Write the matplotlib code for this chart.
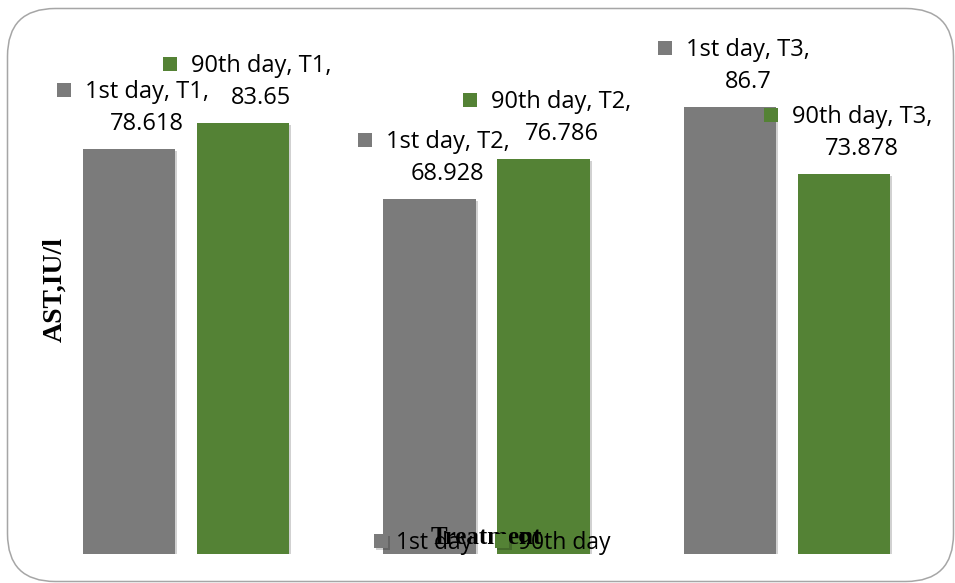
import matplotlib
matplotlib.use("Agg")
import matplotlib.pyplot as plt
import matplotlib.transforms as mtransforms
import matplotlib.patheffects as pe
from matplotlib.patches import FancyBboxPatch, Rectangle
import numpy as np

# Data
treatments = ["T1", "T2", "T3"]
series_names = ["1st day", "90th day"]
day1_values = [78.618, 68.928, 86.7]
day90_values = [83.65, 76.786, 73.878]
value_labels_day1 = ["78.618", "68.928", "86.7"]
value_labels_day90 = ["83.65", "76.786", "73.878"]
colors = ["#7b7b7b", "#548235"]

W, H = 955, 583
fig = plt.figure(figsize=(W / 100, H / 100), dpi=100)

SANS = "Open Sans"
SERIF = "Liberation Serif"
label_size = 17

# Rounded chart-area border
border = FancyBboxPatch((7.5 / W, 1.5 / H), (946 / W), (573 / H),
                        boxstyle="round,pad=0,rounding_size=0.05",
                        transform=fig.transFigure, fill=False,
                        edgecolor="#a6a6a6", linewidth=1.1,
                        mutation_aspect=W / H)
fig.patches.append(border)

ax_left, ax_bottom, ax_w, ax_h = 35.75, 554, 901.5, 515
ax = fig.add_axes([ax_left / W, (H - ax_bottom) / H, ax_w / W, ax_h / H])
ax.set_xlim(-0.5, 2.5)
ax.set_ylim(0, 100)
ax.axis("off")

x = np.arange(len(treatments))
bw = 0.308
off = 0.19
shadow = [pe.SimplePatchShadow(offset=(1.5, -1.5), shadow_rgbFace="#000000", alpha=0.18), pe.Normal()]
bars1 = ax.bar(x - off, day1_values, bw, color=colors[0], label=series_names[0], zorder=2)
bars2 = ax.bar(x + off, day90_values, bw, color=colors[1], label=series_names[1], zorder=2)
for b in list(bars1) + list(bars2):
    b.set_path_effects(shadow)

fig.canvas.draw()
renderer = fig.canvas.get_renderer()

def data_label(xc, val, name, tr, vtxt, color):
    base = ax.transData
    t_val = mtransforms.offset_copy(base, fig=fig, x=18, y=19, units="dots")
    t_top = mtransforms.offset_copy(base, fig=fig, x=18, y=51, units="dots")
    ax.text(xc, val, vtxt, transform=t_val, ha="center", va="baseline",
            fontsize=label_size, family=SANS, color="#000000")
    t1 = ax.text(xc, val, f"{name}, {tr},", transform=t_top, ha="center", va="baseline",
                 fontsize=label_size, family=SANS, color="#000000")
    bb = t1.get_window_extent(renderer)
    px, py = ax.transData.transform((xc, val))
    sq = Rectangle((bb.x0 - 28, py + 51 + 1), 14, 14, transform=None,
                   facecolor=color, edgecolor="none")
    fig.patches.append(sq)

for i in range(len(treatments)):
    data_label(x[i] - off, day1_values[i], series_names[0], treatments[i],
               value_labels_day1[i], colors[0])
    data_label(x[i] + off, day90_values[i], series_names[1], treatments[i],
               value_labels_day90[i], colors[1])

# Axis titles
fig.text(55 / W, (H - 289) / H, "AST,IU/l", rotation=90, ha="center", va="center",
         fontsize=20, fontweight="bold", family=SERIF)
fig.text(486 / W, (H - 537) / H, "Treatment", ha="center", va="center",
         fontsize=18, fontweight="bold", family=SERIF)

# Legend
leg = fig.legend(handles=[bars1, bars2], labels=series_names, loc="center",
                 bbox_to_anchor=(492 / W, (H - 543) / H), ncol=2, frameon=False,
                 prop={"family": SANS, "size": 16.5}, handlelength=0.62, handleheight=0.62,
                 handletextpad=0.35, columnspacing=1.0, borderpad=0.2)

fig.savefig("out.png", dpi=100)
